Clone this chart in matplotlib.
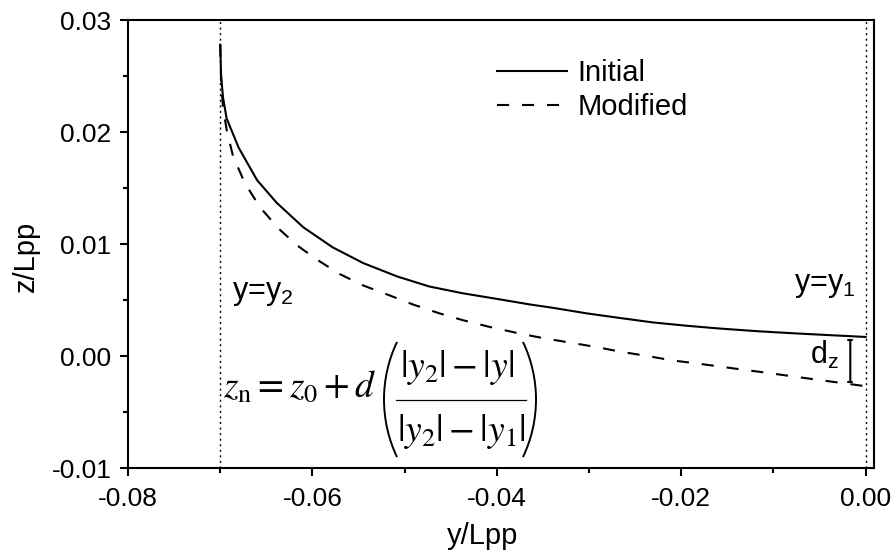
import matplotlib
matplotlib.use("Agg")
import matplotlib.pyplot as plt
from matplotlib.ticker import MultipleLocator, FormatStrFormatter
from matplotlib.patches import Arc
from matplotlib.lines import Line2D
from matplotlib.transforms import IdentityTransform

plt.rcParams['font.family'] = ['Liberation Sans', 'DejaVu Sans']
plt.rcParams['axes.unicode_minus'] = False
plt.rcParams['mathtext.fontset'] = 'custom'
plt.rcParams['mathtext.rm'] = 'Liberation Sans'
plt.rcParams['mathtext.it'] = 'Liberation Sans:italic'
plt.rcParams['mathtext.default'] = 'it'

# ---- data ----
y_initial = [-0.0700, -0.0699, -0.0697, -0.0693, -0.0680, -0.0660, -0.0639, -0.0610,
             -0.0578, -0.0545, -0.0508, -0.0473, -0.0437, -0.0400, -0.0364, -0.0339,
             -0.0302, -0.0267, -0.0231, -0.0194, -0.0158, -0.0115, -0.0072, 0.0000]
z_initial = [0.0278, 0.0250, 0.0231, 0.0212, 0.0186, 0.0157, 0.0137, 0.0115,
             0.0097, 0.0083, 0.0071, 0.0062, 0.0056, 0.0051, 0.0046, 0.0043,
             0.0038, 0.0034, 0.0030, 0.0027, 0.00245, 0.0022, 0.0020, 0.0017]

y_modified = [-0.0700, -0.0699, -0.0697, -0.0693, -0.0686, -0.0673, -0.0657, -0.0637,
              -0.0617, -0.0595, -0.0570, -0.0545, -0.0516, -0.0491, -0.0462, -0.0437,
              -0.0408, -0.0375, -0.0350, -0.0321, -0.0292, -0.0267, -0.0237, -0.0209,
              -0.0180, -0.0144, -0.0107, -0.0072, -0.0036, 0.0000]
z_modified = [0.0278, 0.0245, 0.0222, 0.0202, 0.0178, 0.0154, 0.0133, 0.0114,
              0.0099, 0.0086, 0.0073, 0.0063, 0.0054, 0.0046, 0.0038, 0.0032,
              0.0026, 0.0020, 0.0016, 0.0012, 0.0008, 0.0004, 0.0000, -0.0004,
              -0.0007, -0.0011, -0.0015, -0.0019, -0.0023, -0.0027]

y2_pos = -0.07
y1_pos = 0.0
dz_top = 0.00143
dz_bottom = -0.00232

x_ticks = [-0.08, -0.06, -0.04, -0.02, 0.00]
y_ticks = [-0.01, 0.00, 0.01, 0.02, 0.03]

W, H = 896, 557

# ---- figure ----
fig = plt.figure(figsize=(W / 100, H / 100), dpi=100)
ax = fig.add_axes([128/W, (H-468)/H, 746/W, 448/H])

ax.plot(y_initial, z_initial, color='black', lw=1.5, label='Initial')
ax.plot(y_modified, z_modified, color='black', lw=1.5, ls=(0, (5.8, 6.2)), label='Modified')

ax.axvline(y2_pos, color='black', lw=1.0, ls=(0, (1.5, 2.5)))
ax.axvline(y1_pos, color='black', lw=1.0, ls=(0, (1.5, 2.5)))

ax.set_xlim(-0.08, 0.0009)
ax.set_ylim(-0.01, 0.03)
ax.set_xticks(x_ticks)
ax.set_yticks(y_ticks)
ax.xaxis.set_minor_locator(MultipleLocator(0.01))
ax.yaxis.set_minor_locator(MultipleLocator(0.005))
ax.xaxis.set_major_formatter(FormatStrFormatter('%.2f'))
ax.yaxis.set_major_formatter(FormatStrFormatter('%.2f'))

for s in ax.spines.values():
    s.set_linewidth(1.5)
ax.tick_params(which='major', direction='out', length=6, width=1.5, labelsize=19)
ax.tick_params(axis='x', which='major', pad=8)
ax.tick_params(axis='y', which='major', pad=6)
ax.tick_params(which='minor', direction='out', length=3.5, width=1.5)
ax.tick_params(top=False, right=False, which='both')

ax.set_xlabel('y/Lpp', fontsize=21)
ax.set_ylabel('z/Lpp', fontsize=21)
ax.xaxis.set_label_coords((483-128)/746, -(522-468)/448)
ax.yaxis.set_label_coords(-(128-40)/746, (468-256)/448)

leg = ax.legend(loc='upper left', bbox_to_anchor=(0.4946, 0.912), frameon=False,
                fontsize=21, handlelength=2.4, handletextpad=0.35, labelspacing=0.19,
                borderpad=0, borderaxespad=0)

ax.text(-0.0687, 0.0056, r'y=y$_{\mathregular{2}}$', fontsize=22, ha='left', va='center')
ax.text(-0.0078, 0.0063, r'y=y$_{\mathregular{1}}$', fontsize=22, ha='left', va='center')
ax.text(-0.0060, 0.0001, r'd$_{\mathregular{z}}$', fontsize=22, ha='left', va='center')

ax.annotate('', xy=(-0.00167, dz_bottom), xytext=(-0.00167, dz_top),
            arrowprops=dict(arrowstyle='|-|,widthA=0.15,widthB=0.15', lw=1.5, color='black',
                            shrinkA=0, shrinkB=0))

# ---- formula (composed from pieces, positioned in pixels) ----
px = IdentityTransform()
def P(x, y):
    return x, H - y

fs = 27
fig.text(*P(223, 397), r'$z_{\mathrm{n}} = z_{\mathrm{0}} + d$', fontsize=fs,
         ha='left', va='baseline', math_fontfamily='stix', transform=px)
fig.text(*P(457, 377), r'$|y_{\mathrm{2}}|-|y|$', fontsize=fs,
         ha='center', va='baseline', math_fontfamily='stix', transform=px)
fig.text(*P(461, 441), r'$|y_{\mathrm{2}}|-|y_{\mathrm{1}}|$', fontsize=fs,
         ha='center', va='baseline', math_fontfamily='stix', transform=px)
fig.add_artist(Line2D([396, 526], [H - 400, H - 400], color='black', lw=0.9, transform=px))
R = 133.7
fig.add_artist(Arc(P(384 + R, 399.5), 2 * R, 2 * R, theta1=180 - 25.5, theta2=180 + 25.5,
                   lw=1.4, color='black', transform=px))
fig.add_artist(Arc(P(536 - R, 399.5), 2 * R, 2 * R, theta1=-25.5, theta2=25.5,
                   lw=1.4, color='black', transform=px))

fig.savefig('out.png', dpi=100)
